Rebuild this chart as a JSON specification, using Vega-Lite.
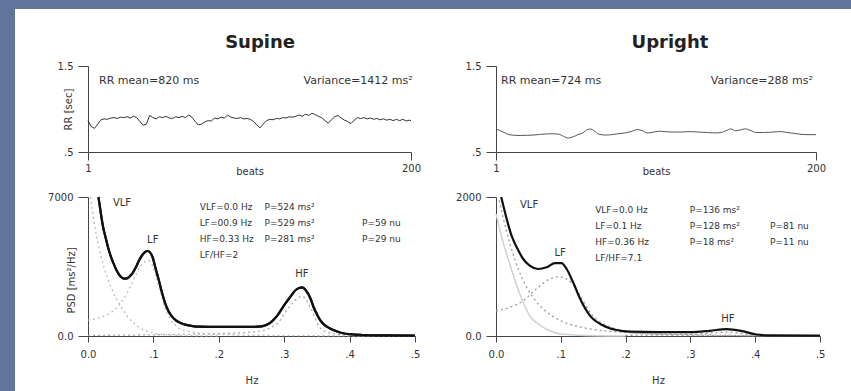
{
  "$schema": "https://vega.github.io/schema/vega-lite/v6.json",
  "width": 836,
  "height": 382,
  "autosize": {"type": "none"},
  "padding": {"left": 15, "top": 9, "right": 0, "bottom": 0},
  "background": "#5f769a",
  "config": {
    "view": {"fill": "white", "stroke": null},
    "axis": {"domainColor": "#444", "tickColor": "#444", "labelColor": "#333", "titleColor": "#333", "labelFont": "DejaVu Sans", "titleFont": "DejaVu Sans", "labelFontSize": 10, "titleFontSize": 10, "titleFontWeight": "normal", "grid": false, "labelFlush": false, "labelOverlap": false, "domainWidth": 1, "tickWidth": 1},
    "text": {"font": "DejaVu Sans", "fontSize": 11, "color": "#333"}
  },
  "datasets": {
    "rr_supine": [
      {"beat":1,"rr":0.865},{"beat":3,"rr":0.795},{"beat":5,"rr":0.775},{"beat":7,"rr":0.825},{"beat":9,"rr":0.875},{"beat":11,"rr":0.885},{"beat":13,"rr":0.88},{"beat":15,"rr":0.895},{"beat":17,"rr":0.9},{"beat":19,"rr":0.89},
      {"beat":21,"rr":0.905},{"beat":23,"rr":0.9},{"beat":25,"rr":0.91},{"beat":27,"rr":0.895},{"beat":29,"rr":0.915},{"beat":31,"rr":0.9},{"beat":33,"rr":0.855},{"beat":35,"rr":0.81},{"beat":37,"rr":0.825},{"beat":39,"rr":0.925},
      {"beat":41,"rr":0.9},{"beat":43,"rr":0.885},{"beat":45,"rr":0.91},{"beat":47,"rr":0.9},{"beat":49,"rr":0.915},{"beat":51,"rr":0.895},{"beat":53,"rr":0.89},{"beat":55,"rr":0.91},{"beat":57,"rr":0.9},{"beat":59,"rr":0.915},
      {"beat":61,"rr":0.9},{"beat":63,"rr":0.93},{"beat":65,"rr":0.905},{"beat":67,"rr":0.855},{"beat":69,"rr":0.815},{"beat":71,"rr":0.825},{"beat":73,"rr":0.85},{"beat":75,"rr":0.865},{"beat":77,"rr":0.86},{"beat":79,"rr":0.895},
      {"beat":81,"rr":0.885},{"beat":83,"rr":0.905},{"beat":85,"rr":0.895},{"beat":87,"rr":0.93},{"beat":89,"rr":0.905},{"beat":91,"rr":0.895},{"beat":93,"rr":0.89},{"beat":95,"rr":0.9},{"beat":97,"rr":0.885},{"beat":99,"rr":0.89},
      {"beat":101,"rr":0.88},{"beat":103,"rr":0.855},{"beat":105,"rr":0.815},{"beat":107,"rr":0.78},{"beat":109,"rr":0.825},{"beat":111,"rr":0.865},{"beat":113,"rr":0.88},{"beat":115,"rr":0.875},{"beat":117,"rr":0.89},{"beat":119,"rr":0.885},
      {"beat":121,"rr":0.9},{"beat":123,"rr":0.895},{"beat":125,"rr":0.91},{"beat":127,"rr":0.905},{"beat":129,"rr":0.915},{"beat":131,"rr":0.93},{"beat":133,"rr":0.915},{"beat":135,"rr":0.94},{"beat":137,"rr":0.925},{"beat":139,"rr":0.95},
      {"beat":141,"rr":0.935},{"beat":143,"rr":0.915},{"beat":145,"rr":0.9},{"beat":147,"rr":0.865},{"beat":149,"rr":0.835},{"beat":151,"rr":0.875},{"beat":153,"rr":0.91},{"beat":155,"rr":0.925},{"beat":157,"rr":0.895},{"beat":159,"rr":0.87},
      {"beat":161,"rr":0.855},{"beat":163,"rr":0.83},{"beat":165,"rr":0.87},{"beat":167,"rr":0.9},{"beat":169,"rr":0.89},{"beat":171,"rr":0.9},{"beat":173,"rr":0.885},{"beat":175,"rr":0.895},{"beat":177,"rr":0.88},{"beat":179,"rr":0.89},
      {"beat":181,"rr":0.875},{"beat":183,"rr":0.885},{"beat":185,"rr":0.87},{"beat":187,"rr":0.88},{"beat":189,"rr":0.865},{"beat":191,"rr":0.88},{"beat":193,"rr":0.865},{"beat":195,"rr":0.88},{"beat":197,"rr":0.86},{"beat":199,"rr":0.87},{"beat":200,"rr":0.865}
    ],
    "rr_upright": [
      {"beat":1,"rr":0.77},{"beat":3,"rr":0.752},{"beat":6,"rr":0.727},{"beat":9,"rr":0.702},{"beat":12,"rr":0.695},{"beat":16,"rr":0.692},{"beat":20,"rr":0.694},{"beat":24,"rr":0.697},{"beat":28,"rr":0.704},{"beat":32,"rr":0.71},
      {"beat":36,"rr":0.712},{"beat":40,"rr":0.707},{"beat":43,"rr":0.682},{"beat":46,"rr":0.662},{"beat":49,"rr":0.677},{"beat":52,"rr":0.702},{"beat":55,"rr":0.722},{"beat":58,"rr":0.762},{"beat":60,"rr":0.767},{"beat":62,"rr":0.747},
      {"beat":65,"rr":0.707},{"beat":69,"rr":0.697},{"beat":73,"rr":0.702},{"beat":77,"rr":0.712},{"beat":81,"rr":0.722},{"beat":85,"rr":0.737},{"beat":89,"rr":0.762},{"beat":92,"rr":0.747},{"beat":95,"rr":0.722},{"beat":98,"rr":0.727},
      {"beat":102,"rr":0.742},{"beat":106,"rr":0.737},{"beat":111,"rr":0.732},{"beat":116,"rr":0.732},{"beat":121,"rr":0.737},{"beat":127,"rr":0.732},{"beat":132,"rr":0.727},{"beat":137,"rr":0.722},{"beat":141,"rr":0.727},{"beat":144,"rr":0.747},
      {"beat":147,"rr":0.769},{"beat":150,"rr":0.747},{"beat":153,"rr":0.757},{"beat":156,"rr":0.769},{"beat":159,"rr":0.752},{"beat":163,"rr":0.727},{"beat":168,"rr":0.727},{"beat":173,"rr":0.732},{"beat":178,"rr":0.737},{"beat":182,"rr":0.727},
      {"beat":186,"rr":0.717},{"beat":190,"rr":0.707},{"beat":195,"rr":0.702},{"beat":200,"rr":0.702}
    ],
    "psd_supine_total": [
      {"hz":0.016,"psd":7000},{"hz":0.02,"psd":6100},{"hz":0.023,"psd":5500},{"hz":0.027,"psd":4950},{"hz":0.031,"psd":4415},{"hz":0.035,"psd":4000},{"hz":0.039,"psd":3660},{"hz":0.043,"psd":3350},{"hz":0.047,"psd":3120},{"hz":0.051,"psd":2960},
      {"hz":0.055,"psd":2890},{"hz":0.059,"psd":2900},{"hz":0.063,"psd":2980},{"hz":0.068,"psd":3150},{"hz":0.073,"psd":3450},{"hz":0.078,"psd":3800},{"hz":0.083,"psd":4080},{"hz":0.087,"psd":4230},{"hz":0.091,"psd":4280},{"hz":0.095,"psd":4200},
      {"hz":0.099,"psd":3950},{"hz":0.103,"psd":3450},{"hz":0.108,"psd":2850},{"hz":0.113,"psd":2200},{"hz":0.118,"psd":1645},{"hz":0.123,"psd":1260},{"hz":0.128,"psd":1000},{"hz":0.134,"psd":800},{"hz":0.14,"psd":680},{"hz":0.15,"psd":560},
      {"hz":0.16,"psd":500},{"hz":0.17,"psd":470},{"hz":0.2,"psd":455},{"hz":0.24,"psd":455},{"hz":0.26,"psd":470},{"hz":0.27,"psd":520},{"hz":0.28,"psd":700},{"hz":0.29,"psd":1050},{"hz":0.3,"psd":1550},{"hz":0.31,"psd":2000},
      {"hz":0.318,"psd":2330},{"hz":0.327,"psd":2450},{"hz":0.334,"psd":2260},{"hz":0.34,"psd":1900},{"hz":0.345,"psd":1450},{"hz":0.35,"psd":1100},{"hz":0.355,"psd":800},{"hz":0.36,"psd":600},{"hz":0.37,"psd":380},{"hz":0.38,"psd":240},
      {"hz":0.39,"psd":140},{"hz":0.4,"psd":90},{"hz":0.42,"psd":50},{"hz":0.45,"psd":30},{"hz":0.5,"psd":20}
    ],
    "psd_supine_vlf": [
      {"hz":0.004,"psd":7000},{"hz":0.01,"psd":5600},{"hz":0.02,"psd":4000},{"hz":0.03,"psd":2900},{"hz":0.04,"psd":2100},{"hz":0.05,"psd":1500},{"hz":0.06,"psd":1000},{"hz":0.07,"psd":650},{"hz":0.08,"psd":400},{"hz":0.09,"psd":250},{"hz":0.1,"psd":150},{"hz":0.12,"psd":60},{"hz":0.15,"psd":20},{"hz":0.2,"psd":5}
    ],
    "psd_supine_lf": [
      {"hz":0.0,"psd":800},{"hz":0.02,"psd":950},{"hz":0.04,"psd":1300},{"hz":0.055,"psd":1900},{"hz":0.065,"psd":2500},{"hz":0.075,"psd":3200},{"hz":0.085,"psd":3700},{"hz":0.091,"psd":3800},{"hz":0.097,"psd":3650},{"hz":0.103,"psd":3100},
      {"hz":0.11,"psd":2300},{"hz":0.118,"psd":1400},{"hz":0.125,"psd":900},{"hz":0.135,"psd":500},{"hz":0.15,"psd":250},{"hz":0.2,"psd":80},{"hz":0.3,"psd":20},{"hz":0.5,"psd":5}
    ],
    "psd_supine_hf": [
      {"hz":0.0,"psd":30},{"hz":0.1,"psd":60},{"hz":0.2,"psd":120},{"hz":0.25,"psd":200},{"hz":0.27,"psd":300},{"hz":0.29,"psd":650},{"hz":0.31,"psd":1550},{"hz":0.327,"psd":2000},{"hz":0.34,"psd":1450},{"hz":0.355,"psd":400},{"hz":0.37,"psd":150},{"hz":0.4,"psd":50},{"hz":0.5,"psd":15}
    ],
    "psd_upright_total": [
      {"hz":0.008,"psd":2000},{"hz":0.012,"psd":1850},{"hz":0.0165,"psd":1684},{"hz":0.024,"psd":1443},{"hz":0.032,"psd":1276},{"hz":0.042,"psd":1108},{"hz":0.052,"psd":1012},{"hz":0.065,"psd":964},{"hz":0.078,"psd":988},{"hz":0.091,"psd":1050},
      {"hz":0.101,"psd":1050},{"hz":0.109,"psd":964},{"hz":0.119,"psd":773},{"hz":0.13,"psd":532},{"hz":0.145,"psd":292},{"hz":0.166,"psd":148},{"hz":0.186,"psd":86},{"hz":0.207,"psd":62},{"hz":0.25,"psd":55},{"hz":0.3,"psd":55},
      {"hz":0.33,"psd":75},{"hz":0.356,"psd":100},{"hz":0.38,"psd":70},{"hz":0.4,"psd":25},{"hz":0.42,"psd":10},{"hz":0.5,"psd":5}
    ],
    "psd_upright_vlf_light": [
      {"hz":0.0,"psd":1755},{"hz":0.011,"psd":1348},{"hz":0.022,"psd":1012},{"hz":0.032,"psd":724},{"hz":0.042,"psd":485},{"hz":0.052,"psd":292},{"hz":0.065,"psd":173},{"hz":0.083,"psd":76},{"hz":0.1,"psd":30},{"hz":0.15,"psd":5},{"hz":0.2,"psd":0}
    ],
    "psd_upright_vlf": [
      {"hz":0.005,"psd":1950},{"hz":0.015,"psd":1550},{"hz":0.025,"psd":1220},{"hz":0.035,"psd":950},{"hz":0.045,"psd":740},{"hz":0.06,"psd":520},{"hz":0.075,"psd":370},{"hz":0.09,"psd":270},{"hz":0.11,"psd":180},{"hz":0.13,"psd":130},
      {"hz":0.15,"psd":95},{"hz":0.2,"psd":50},{"hz":0.25,"psd":30},{"hz":0.3,"psd":20},{"hz":0.4,"psd":5},{"hz":0.5,"psd":0}
    ],
    "psd_upright_lf": [
      {"hz":0.0,"psd":364},{"hz":0.022,"psd":413},{"hz":0.042,"psd":508},{"hz":0.062,"psd":676},{"hz":0.083,"psd":820},{"hz":0.098,"psd":852},{"hz":0.113,"psd":796},{"hz":0.13,"psd":580},{"hz":0.145,"psd":341},{"hz":0.166,"psd":173},
      {"hz":0.186,"psd":100},{"hz":0.22,"psd":40},{"hz":0.3,"psd":10},{"hz":0.5,"psd":0}
    ],
    "psd_upright_hf": [
      {"hz":0.2,"psd":10},{"hz":0.3,"psd":25},{"hz":0.356,"psd":55},{"hz":0.4,"psd":15},{"hz":0.45,"psd":5}
    ]
  },
  "resolve": {"scale": {"x": "independent", "y": "independent"}, "axis": {"x": "independent", "y": "independent"}},
  "layer": [
    {
      "layer": [
        {
          "data": {"name": "rr_supine"},
          "mark": {"type": "line", "stroke": "#333", "strokeWidth": 1},
          "encoding": {
            "x": {"field": "beat", "type": "quantitative", "scale": {"domain": [1, 200], "range": [73, 396], "nice": false, "zero": false},
                  "axis": {"orient": "bottom", "offset": -239, "values": [1, 200], "title": "beats", "titleY": 19, "titleBaseline": "middle", "tickSize": 8, "labelPadding": 3}},
            "y": {"field": "rr", "type": "quantitative", "scale": {"domain": [0.5, 1.5], "range": [143, 57], "nice": false, "zero": false},
                  "axis": {"orient": "left", "offset": -73, "values": [0.5, 1.5], "labelExpr": "datum.value == 0.5 ? '.5' : '1.5'", "title": "RR [sec]", "titleX": -20, "titleBaseline": "middle", "tickSize": 10, "labelPadding": 5}}
          }
        },
        {
          "data": {"values": [{}]},
          "mark": {"type": "text", "fontSize": 18, "fontWeight": "bold", "color": "#222", "align": "center", "baseline": "middle"},
          "encoding": {"x": {"datum": 107, "type": "quantitative"}, "y": {"datum": 1.767, "type": "quantitative"}, "text": {"value": "Supine"}}
        },
        {
          "data": {"values": [{}]},
          "mark": {"type": "text", "align": "left", "baseline": "middle"},
          "encoding": {"x": {"datum": 7.8, "type": "quantitative"}, "y": {"datum": 1.33, "type": "quantitative"}, "text": {"value": "RR mean=820 ms"}}
        },
        {
          "data": {"values": [{}]},
          "mark": {"type": "text", "align": "right", "baseline": "middle"},
          "encoding": {"x": {"datum": 201, "type": "quantitative"}, "y": {"datum": 1.33, "type": "quantitative"}, "text": {"value": "Variance=1412 ms²"}}
        }
      ]
    },
    {
      "layer": [
        {
          "data": {"name": "rr_upright"},
          "mark": {"type": "line", "stroke": "#555", "strokeWidth": 1, "interpolate": "monotone"},
          "encoding": {
            "x": {"field": "beat", "type": "quantitative", "scale": {"domain": [1, 200], "range": [481, 801], "nice": false, "zero": false},
                  "axis": {"orient": "bottom", "offset": -239, "values": [1, 200], "title": "beats", "titleY": 19, "titleBaseline": "middle", "tickSize": 8, "labelPadding": 3}},
            "y": {"field": "rr", "type": "quantitative", "scale": {"domain": [0.5, 1.5], "range": [143, 57], "nice": false, "zero": false},
                  "axis": {"orient": "left", "offset": -481, "values": [0.5, 1.5], "labelExpr": "datum.value == 0.5 ? '.5' : '1.5'", "title": null, "tickSize": 10, "labelPadding": 5}}
          }
        },
        {
          "data": {"values": [{}]},
          "mark": {"type": "text", "fontSize": 18, "fontWeight": "bold", "color": "#222", "align": "center", "baseline": "middle"},
          "encoding": {"x": {"datum": 109.2, "type": "quantitative"}, "y": {"datum": 1.767, "type": "quantitative"}, "text": {"value": "Upright"}}
        },
        {
          "data": {"values": [{}]},
          "mark": {"type": "text", "align": "left", "baseline": "middle"},
          "encoding": {"x": {"datum": 4.1, "type": "quantitative"}, "y": {"datum": 1.33, "type": "quantitative"}, "text": {"value": "RR mean=724 ms"}}
        },
        {
          "data": {"values": [{}]},
          "mark": {"type": "text", "align": "right", "baseline": "middle"},
          "encoding": {"x": {"datum": 198.1, "type": "quantitative"}, "y": {"datum": 1.33, "type": "quantitative"}, "text": {"value": "Variance=288 ms²"}}
        }
      ]
    },
    {
      "layer": [
        {
          "data": {"name": "psd_supine_total"},
          "mark": {"type": "line", "stroke": "#111", "strokeWidth": 2.2, "interpolate": "monotone"},
          "encoding": {
            "x": {"field": "hz", "type": "quantitative", "scale": {"domain": [0, 0.5], "range": [73, 400], "nice": false, "zero": false},
                  "axis": {"orient": "bottom", "offset": -55, "values": [0, 0.1, 0.2, 0.3, 0.4, 0.5], "labelExpr": "datum.value == 0 ? '0.0' : replace(format(datum.value, '.1f'), '0.', '.')", "title": "Hz", "titleY": 44, "titleBaseline": "middle", "tickSize": 6, "labelPadding": 7}},
            "y": {"field": "psd", "type": "quantitative", "scale": {"domain": [0, 7000], "range": [327, 188], "nice": false, "zero": false},
                  "axis": {"orient": "left", "offset": -73, "values": [0, 7000], "labelExpr": "datum.value == 0 ? '0.0' : '7000'", "title": "PSD [ms²/Hz]", "titleX": -17, "titleY": 271, "titleBaseline": "middle", "tickSize": 10, "labelPadding": 5}}
          }
        },
        {
          "data": {"name": "psd_supine_vlf"},
          "mark": {"type": "line", "stroke": "#bbb", "strokeWidth": 1.3, "strokeDash": [2, 3], "interpolate": "monotone"},
          "encoding": {"x": {"field": "hz", "type": "quantitative"}, "y": {"field": "psd", "type": "quantitative"}}
        },
        {
          "data": {"name": "psd_supine_lf"},
          "mark": {"type": "line", "stroke": "#bbb", "strokeWidth": 1.3, "strokeDash": [2, 3], "interpolate": "monotone"},
          "encoding": {"x": {"field": "hz", "type": "quantitative"}, "y": {"field": "psd", "type": "quantitative"}}
        },
        {
          "data": {"name": "psd_supine_hf"},
          "mark": {"type": "line", "stroke": "#aaa", "strokeWidth": 1.3, "strokeDash": [2, 3], "interpolate": "monotone"},
          "encoding": {"x": {"field": "hz", "type": "quantitative"}, "y": {"field": "psd", "type": "quantitative"}}
        },
        {
          "data": {"name": "psd_supine_total"},
          "mark": {"type": "line", "stroke": "#111", "strokeWidth": 2.2, "interpolate": "monotone"},
          "encoding": {"x": {"field": "hz", "type": "quantitative"}, "y": {"field": "psd", "type": "quantitative"}}
        },
        {
          "data": {"values": [{}]},
          "mark": {"type": "text", "align": "center", "baseline": "middle", "fontSize": 10},
          "encoding": {"x": {"datum": 0.052, "type": "quantitative"}, "y": {"datum": 6698, "type": "quantitative"}, "text": {"value": "VLF"}}
        },
        {
          "data": {"values": [{}]},
          "mark": {"type": "text", "align": "center", "baseline": "middle", "fontSize": 10},
          "encoding": {"x": {"datum": 0.099, "type": "quantitative"}, "y": {"datum": 4835, "type": "quantitative"}, "text": {"value": "LF"}}
        },
        {
          "data": {"values": [{}]},
          "mark": {"type": "text", "align": "center", "baseline": "middle", "fontSize": 10},
          "encoding": {"x": {"datum": 0.327, "type": "quantitative"}, "y": {"datum": 3122, "type": "quantitative"}, "text": {"value": "HF"}}
        },
        {
          "data": {"values": [{}]},
          "mark": {"type": "text", "align": "left", "baseline": "top", "lineHeight": 16, "fontSize": 9},
          "encoding": {"x": {"datum": 0.171, "type": "quantitative"}, "y": {"datum": 6698, "type": "quantitative"}, "text": {"value": ["VLF=0.0 Hz", "LF=00.9 Hz", "HF=0.33 Hz", "LF/HF=2"]}}
        },
        {
          "data": {"values": [{}]},
          "mark": {"type": "text", "align": "left", "baseline": "top", "lineHeight": 16, "fontSize": 9},
          "encoding": {"x": {"datum": 0.27, "type": "quantitative"}, "y": {"datum": 6698, "type": "quantitative"}, "text": {"value": ["P=524 ms²", "P=529 ms²", "P=281 ms²"]}}
        },
        {
          "data": {"values": [{}]},
          "mark": {"type": "text", "align": "left", "baseline": "top", "lineHeight": 16, "fontSize": 9},
          "encoding": {"x": {"datum": 0.419, "type": "quantitative"}, "y": {"datum": 6698, "type": "quantitative"}, "text": {"value": [" ", "P=59 nu", "P=29 nu"]}}
        }
      ]
    },
    {
      "layer": [
        {
          "data": {"name": "psd_upright_vlf_light"},
          "mark": {"type": "line", "stroke": "#d0d0d0", "strokeWidth": 1.5, "interpolate": "monotone"},
          "encoding": {
            "x": {"field": "hz", "type": "quantitative", "scale": {"domain": [0, 0.5], "range": [481, 805], "nice": false, "zero": false},
                  "axis": {"orient": "bottom", "offset": -55, "values": [0, 0.1, 0.2, 0.3, 0.4, 0.5], "labelExpr": "datum.value == 0 ? '0.0' : replace(format(datum.value, '.1f'), '0.', '.')", "title": "Hz", "titleY": 44, "titleBaseline": "middle", "tickSize": 6, "labelPadding": 7}},
            "y": {"field": "psd", "type": "quantitative", "scale": {"domain": [0, 2000], "range": [327, 188], "nice": false, "zero": false},
                  "axis": {"orient": "left", "offset": -481, "values": [0, 2000], "labelExpr": "datum.value == 0 ? '0.0' : '2000'", "title": null, "tickSize": 10, "labelPadding": 5}}
          }
        },
        {
          "data": {"name": "psd_upright_vlf"},
          "mark": {"type": "line", "stroke": "#999", "strokeWidth": 1.3, "strokeDash": [2, 3], "interpolate": "monotone"},
          "encoding": {"x": {"field": "hz", "type": "quantitative"}, "y": {"field": "psd", "type": "quantitative"}}
        },
        {
          "data": {"name": "psd_upright_lf"},
          "mark": {"type": "line", "stroke": "#999", "strokeWidth": 1.3, "strokeDash": [2, 3], "interpolate": "monotone"},
          "encoding": {"x": {"field": "hz", "type": "quantitative"}, "y": {"field": "psd", "type": "quantitative"}}
        },
        {
          "data": {"name": "psd_upright_hf"},
          "mark": {"type": "line", "stroke": "#999", "strokeWidth": 1.3, "strokeDash": [2, 3], "interpolate": "monotone"},
          "encoding": {"x": {"field": "hz", "type": "quantitative"}, "y": {"field": "psd", "type": "quantitative"}}
        },
        {
          "data": {"name": "psd_upright_total"},
          "mark": {"type": "line", "stroke": "#111", "strokeWidth": 2.2, "interpolate": "monotone"},
          "encoding": {"x": {"field": "hz", "type": "quantitative"}, "y": {"field": "psd", "type": "quantitative"}}
        },
        {
          "data": {"values": [{}]},
          "mark": {"type": "text", "align": "center", "baseline": "middle", "fontSize": 10},
          "encoding": {"x": {"datum": 0.051, "type": "quantitative"}, "y": {"datum": 1885, "type": "quantitative"}, "text": {"value": "VLF"}}
        },
        {
          "data": {"values": [{}]},
          "mark": {"type": "text", "align": "center", "baseline": "middle", "fontSize": 10},
          "encoding": {"x": {"datum": 0.099, "type": "quantitative"}, "y": {"datum": 1194, "type": "quantitative"}, "text": {"value": "LF"}}
        },
        {
          "data": {"values": [{}]},
          "mark": {"type": "text", "align": "center", "baseline": "middle", "fontSize": 10},
          "encoding": {"x": {"datum": 0.358, "type": "quantitative"}, "y": {"datum": 245, "type": "quantitative"}, "text": {"value": "HF"}}
        },
        {
          "data": {"values": [{}]},
          "mark": {"type": "text", "align": "left", "baseline": "top", "lineHeight": 16, "fontSize": 9},
          "encoding": {"x": {"datum": 0.153, "type": "quantitative"}, "y": {"datum": 1871, "type": "quantitative"}, "text": {"value": ["VLF=0.0 Hz", "LF=0.1 Hz", "HF=0.36 Hz", "LF/HF=7.1"]}}
        },
        {
          "data": {"values": [{}]},
          "mark": {"type": "text", "align": "left", "baseline": "top", "lineHeight": 16, "fontSize": 9},
          "encoding": {"x": {"datum": 0.299, "type": "quantitative"}, "y": {"datum": 1871, "type": "quantitative"}, "text": {"value": ["P=136 ms²", "P=128 ms²", "P=18 ms²"]}}
        },
        {
          "data": {"values": [{}]},
          "mark": {"type": "text", "align": "left", "baseline": "top", "lineHeight": 16, "fontSize": 9},
          "encoding": {"x": {"datum": 0.423, "type": "quantitative"}, "y": {"datum": 1871, "type": "quantitative"}, "text": {"value": [" ", "P=81 nu", "P=11 nu"]}}
        }
      ]
    }
  ]
}
